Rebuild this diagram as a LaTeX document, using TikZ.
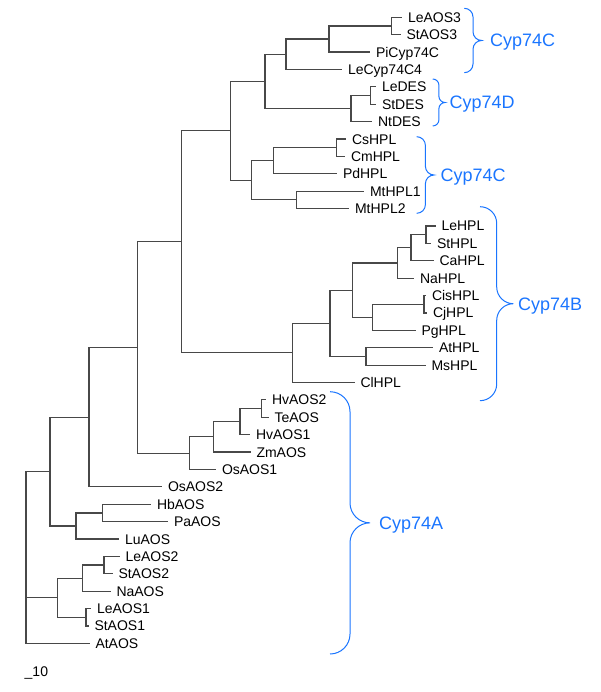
\documentclass[tikz,border=0pt]{standalone}
\usepackage{fontspec}
\setmainfont{Liberation Sans}
\usepackage{tikz}
\definecolor{phgrey}{RGB}{72,72,72}
\definecolor{phblue}{RGB}{26,117,255}
\tikzset{
  phbranch/.style={draw=phgrey, line width=1.2pt},
  phleaf/.style={anchor=west, inner xsep=6pt, inner ysep=0pt, outer sep=0pt, text height=10pt, text depth=0pt, font=\fontsize{14}{16}\selectfont},
  phclade/.style={anchor=west, inner sep=0pt, text=phblue, text height=12.9pt, text depth=0pt, font=\fontsize{18}{20}\selectfont},
  phbrace/.style={draw=phblue, line width=1pt},
  phscale/.style={anchor=base west, inner sep=0pt, font=\fontsize{14}{16}\selectfont}
}
\newcommand{\cladebrace}[4]{%
  \draw[phbrace] (#1,#2) to[out=0,in=90] ({#1+#4},{#2+#4}) -- ({#1+#4},{(#2+#3)/2-#4})
    to[out=-90,in=180] ({#1+2*#4},{(#2+#3)/2}) to[out=180,in=90] ({#1+#4},{(#2+#3)/2+#4})
    -- ({#1+#4},{#3-#4}) to[out=-90,in=0] (#1,#3);}

\begin{document}
\begin{tikzpicture}[x=1pt, y=-1pt]
  \useasboundingbox (0,0) rectangle (600,692);
  \begin{scope}[y=-17.39pt, yshift=-17.3pt]
    \foreach \nm/\rw/\xx/\lb in {
      leaos3/0/402/LeAOS3, staos3/1/400.5/StAOS3, picyp74c/2/370/PiCyp74C, lecyp74c4/3/342/LeCyp74C4,
      ledes/4/376/LeDES, stdes/5/376/StDES, ntdes/6/372/NtDES,
      cshpl/7/346/CsHPL, cmhpl/8/345/CmHPL, pdhpl/9/337/PdHPL, mthpl1/10/364/MtHPL1, mthpl2/11/349/MtHPL2,
      lehpl/12/435.5/LeHPL, sthpl/13/431/StHPL, cahpl/14/433.5/CaHPL, nahpl/15/414/NaHPL,
      cishpl/16/426/CisHPL, cjhpl/17/427/CjHPL, pghpl/18/415.5/PgHPL, athpl/19/433/AtHPL, mshpl/20/425.5/MsHPL, clhpl/21/354.5/ClHPL,
      hvaos2/22/266/HvAOS2, teaos/23/268.5/TeAOS, hvaos1/24/250/HvAOS1, zmaos/25/250.5/ZmAOS, osaos1/26/216/OsAOS1, osaos2/27/162/OsAOS2,
      hbaos/28/151/HbAOS, paaos/29/168/PaAOS, luaos/30/119/LuAOS,
      leaos2/31/119.5/LeAOS2, staos2/32/112.5/StAOS2, naaos/33/110.5/NaAOS, leaos1/34/91/LeAOS1, staos1/35/88.5/StAOS1, ataos/36/89.5/AtAOS}
      \node[phleaf] (\nm) at (\xx,\rw) {\lb};
    \foreach \nm/\xx/\rw in {
      root/26/31.061, a/50/26.122, b/57.3/33.375, b1/82.3/32.25, b11/104/31.5, b2/86/34.5,
      d/76/29.25, d1/102.7/28.5, c/89/22.994, e/137.7/18.988,
      g/189.3/25.0625, g1/213.3/24.125, g2/240/23.25, g3/261.5/22.5,
      f/181.7/12.914, h/230.7/6.531, h1/265/3.6875, h11/286/2.125, h111/329/1.25, h1111/391.7/0.5,
      h12/351/5.25, h121/370.7/4.5, h2/251.7/9.375, h21/273.3/8.25, h211/336.5/7.5, h22/296.7/10.5,
      k/292.7/19.297, k1/330/17.594, k11/352.7/15.6875, k111/397.3/14.125, k1111/411/13.25,
      k11111/426/12.5, k112/372.7/17.25, k1121/424/16.5, k12/366/19.5}
      \coordinate (\nm) at (\xx,\rw);
    \foreach \p/\q in {root/a, root/b, root/ataos, a/c, a/d, b/b1, b/b2, b1/b11, b1/naaos,
      b11/leaos2, b11/staos2, b2/leaos1, b2/staos1, d/d1, d/luaos, d1/hbaos, d1/paaos,
      c/e, c/osaos2, e/f, e/g, g/g1, g/osaos1, g1/g2, g1/zmaos, g2/g3, g2/hvaos1, g3/hvaos2, g3/teaos,
      f/h, f/k, h/h1, h/h2, h1/h11, h1/h12, h11/h111, h11/lecyp74c4, h111/h1111, h111/picyp74c,
      h1111/leaos3, h1111/staos3, h12/h121, h12/ntdes, h121/ledes, h121/stdes,
      h2/h21, h2/h22, h21/h211, h21/pdhpl, h211/cshpl, h211/cmhpl, h22/mthpl1, h22/mthpl2,
      k/k1, k/clhpl, k1/k11, k1/k12, k11/k111, k11/k112, k111/k1111, k111/nahpl,
      k1111/k11111, k1111/cahpl, k11111/lehpl, k11111/sthpl, k112/k1121, k112/pghpl,
      k1121/cishpl, k1121/cjhpl, k12/athpl, k12/mshpl}
      \draw[phbranch] (\p) |- (\q);
  \end{scope}
  \cladebrace{464.3}{8.3}{72.7}{8.7}
  \cladebrace{432.7}{79}{126}{6.2}
  \cladebrace{416.7}{136.7}{213.3}{8.7}
  \cladebrace{480}{206.7}{400.7}{16.7}
  \cladebrace{330}{391.7}{654}{20}
  \node[phclade] (cyp74c1) at (490,40.5) {Cyp74C};
  \node[phclade] (cyp74d) at (449.5,102.5) {Cyp74D};
  \node[phclade] (cyp74c2) at (440.5,175) {Cyp74C};
  \node[phclade] (cyp74b) at (518,303.7) {Cyp74B};
  \node[phclade] (cyp74a) at (379,522.9) {Cyp74A};
  \node[phscale] (scale) at (24.5,676) {\_10};
\end{tikzpicture}
\end{document}
